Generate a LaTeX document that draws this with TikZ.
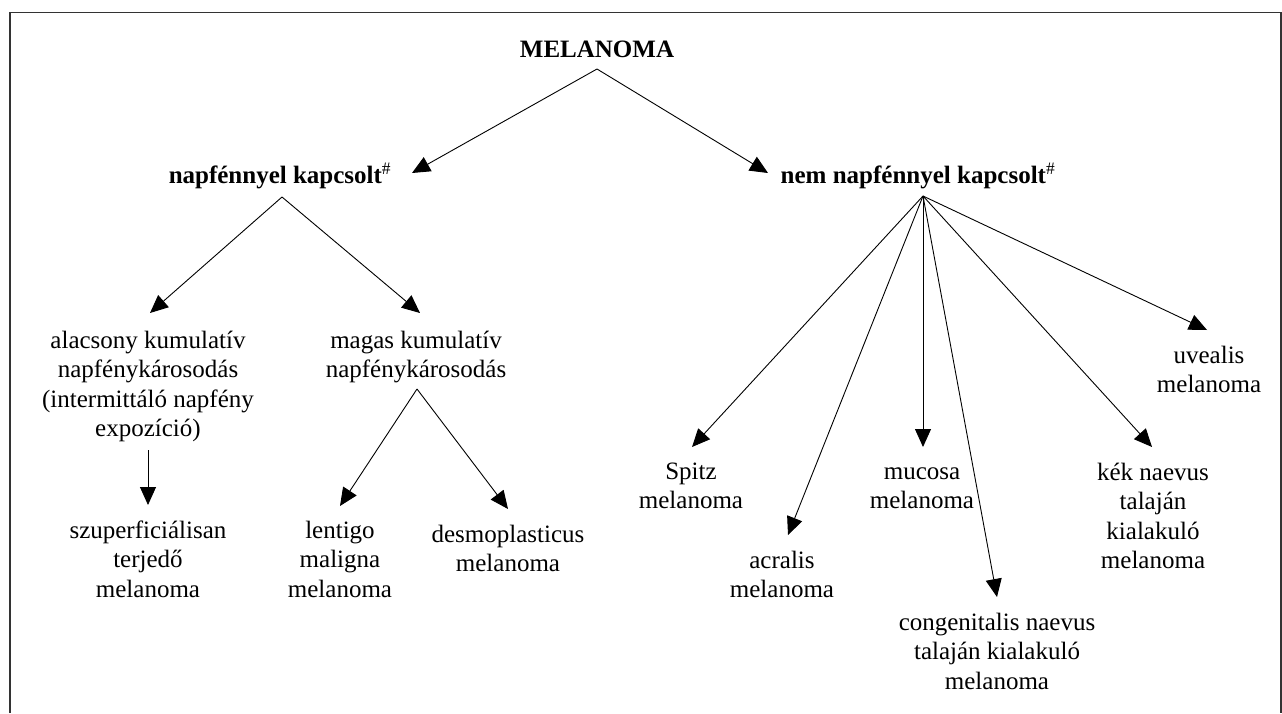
\documentclass[tikz,border=0pt]{standalone}
\usepackage{fontspec}
\setmainfont{Liberation Serif}
\usetikzlibrary{arrows.meta,calc}
\tikzset{
  lbl/.style={align=center, inner sep=0pt, anchor=north, font=\fontsize{25}{29.5}\selectfont},
  hdr/.style={lbl, font=\fontsize{25}{29.5}\selectfont\bfseries},
  arr/.style={line width=0.9pt, -{Triangle[length=18pt,width=16pt]}},
  frame/.style={line width=1.5pt, black!80}
}
\begin{document}
\begin{tikzpicture}[x=1pt,y=-1pt]
\useasboundingbox (0,0) rectangle (1282,713);
\draw[frame] (10,713) -- (10,12.7) -- (1281,12.7) -- (1281,713);

\node[hdr] (mel) at (597,36.35) {\strut MELANOMA};
\node[hdr] (napf) at (280,162.35) {\strut napfénnyel kapcsolt\textsuperscript{\mdseries\#}};
\node[hdr] (nem) at (918,162.35) {\strut nem napfénnyel kapcsolt\textsuperscript{\mdseries\#}};

\node[lbl] (alac) at (148,327.35) {\strut alacsony kumulatív\\napfénykárosodás\\(intermittáló napfény\\expozíció)};
\node[lbl] (magas) at (416,327.35) {\strut magas kumulatív\\napfénykárosodás};
\node[lbl] (szup) at (148,517.35) {\strut szuperficiálisan\\terjedő\\melanoma};
\node[lbl] (lent) at (340,517.35) {\strut lentigo\\maligna\\melanoma};
\node[lbl] (desm) at (508,521.35) {\strut desmoplasticus\\melanoma};

\node[lbl] (spitz) at (691,458.35) {\strut Spitz\\melanoma};
\node[lbl] (acr) at (782,547.35) {\strut acralis\\melanoma};
\node[lbl] (muc) at (922,458.35) {\strut mucosa\\melanoma};
\node[lbl] (cong) at (997,609.35) {\strut congenitalis naevus\\talaján kialakuló\\melanoma};
\node[lbl] (kek) at (1153,459.35) {\strut kék naevus\\talaján\\kialakuló\\melanoma};
\node[lbl] (uv) at (1209,342.35) {\strut uvealis\\melanoma};

% connectors
\coordinate (melA) at ($(mel.north)+(0,32.65)$);
\draw[arr] (melA) -- ($(napf.north)+(132,10.65)$);
\draw[arr] (melA) -- ($(nem.north)+(-150,10.65)$);

\coordinate (napfA) at ($(napf.north)+(2,34.65)$);
\draw[arr] (napfA) -- ($(alac.north)+(2,-14.35)$);
\draw[arr] (napfA) -- ($(magas.north)+(4,-14.35)$);

\draw[arr] ($(alac.north)+(0,122.65)$) -- ($(szup.north)+(0,-12.35)$);

\coordinate (magasA) at ($(magas.north)+(1,61.65)$);
\draw[arr] (magasA) -- ($(lent.north)+(0,-11.35)$);
\draw[arr] (magasA) -- ($(desm.north)+(0,-12.35)$);

\coordinate (nemA) at ($(nem.north)+(5,33.65)$);
\draw[arr] (nemA) -- ($(spitz.north)+(1,-11.35)$);
\draw[arr] (nemA) -- ($(acr.north)+(6,-12.35)$);
\draw[arr] (nemA) -- ($(muc.north)+(1,-11.35)$);
\draw[arr] (nemA) -- ($(cong.north)+(0,-12.35)$);
\draw[arr] (nemA) -- ($(kek.north)+(-1,-12.35)$);
\draw[arr] (nemA) -- ($(uv.north)+(-2,-12.35)$);
\end{tikzpicture}
\end{document}
